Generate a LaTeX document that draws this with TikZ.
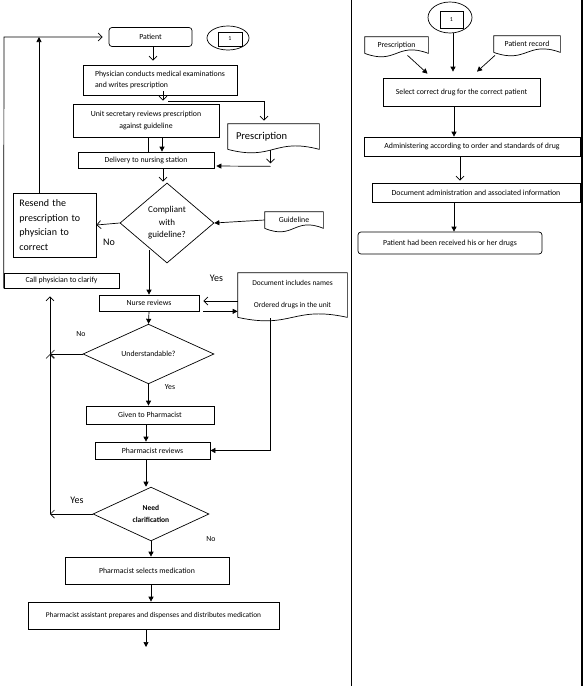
\documentclass[tikz,border=0pt]{standalone}
\usepackage{fontspec}
\setmainfont{Carlito}
\usetikzlibrary{shapes.geometric,arrows.meta,calc}
\newcommand{\docborder}[1]{%
  \draw (#1.south west) -- (#1.north west) -- (#1.north east) -- (#1.south east)
    .. controls ($(#1.south)+(0,-12)$) and ($(#1.south)+(0,12)$) .. (#1.south west);}
\begin{document}
\begin{tikzpicture}[x=1pt,y=-1pt,line width=0.7pt,
    every node/.style={inner sep=0pt,font=\fontsize{7.8}{11}\selectfont},
    big/.style={font=\fontsize{10}{14.5}\selectfont},
    box/.style={draw,rectangle},
    rbox/.style={draw,rectangle,rounded corners=3pt},
    docu/.style={rectangle},
    dia/.style={draw,diamond},
    arr/.style={-{Triangle[length=5pt,width=5pt]}},
    oarr/.style={-{Straight Barb[length=4pt,width=8pt]}}]
  \useasboundingbox (0,0) rectangle (584,688);
  % left column
  \node[rbox,minimum width=83,minimum height=19] (patient) at (150.5,37) {Patient};
  \node[draw,ellipse,minimum width=42,minimum height=24] (mark) at (228,38) {};
  \node[box,minimum width=24,minimum height=14,font=\fontsize{6}{7}\selectfont] (one) at (230,39) {1};
  \node[box,minimum width=154,minimum height=30,align=left] (physician) at (160,80) {Physician conducts medical examinations\\and writes prescription};
  \node[box,minimum width=146,minimum height=33,align=center,font=\fontsize{7.8}{12}\selectfont] (unitsec) at (146,120.5) {Unit secretary reviews prescription\\against guideline};
  \node[docu,minimum width=91,minimum height=25,text width=75,align=left,font=\fontsize{10.5}{12}\selectfont] (presc) at (273.5,136.5) {Prescription};
  \node[box,minimum width=136,minimum height=16] (delivery) at (146,160) {Delivery to nursing station};
  \node[dia,minimum width=94,minimum height=80,align=center,font=\fontsize{9}{12.5}\selectfont] (comply) at (167,223) {Compliant\\with\\guideline?};
  \node[box,minimum width=83,minimum height=64,text width=70,align=left,big] (resend) at (54.5,225) {Resend the\\prescription to\\physician to\\correct};
  \node[docu,minimum width=58,minimum height=16] (guide) at (294,220) {Guideline};
  \node[box,minimum width=115,minimum height=15] (call) at (61.5,280.5) {Call physician to clarify};
  \node[box,minimum width=100,minimum height=16] (nurse) at (149,303) {Nurse reviews};
  \node[docu,minimum width=109,minimum height=44,align=center,font=\fontsize{7.5}{22}\selectfont] (docnames) at (292.5,295) {Document includes names\\Ordered drugs in the unit};
  \node[dia,minimum width=131,minimum height=42] (underst) at (148.5,354) {Understandable?};
  \node[box,minimum width=128,minimum height=18] (given) at (150,415) {Given to Pharmacist};
  \node[box,minimum width=115,minimum height=17] (pharmrev) at (152.5,450.5) {Pharmacist reviews};
  \node[dia,minimum width=116,minimum height=49,align=center,font=\fontsize{7.5}{12}\selectfont\bfseries] (needcl) at (151,514) {Need\\clarification};
  \node[box,minimum width=164,minimum height=27] (select) at (147,570.5) {Pharmacist selects medication};
  \node[box,minimum width=251,minimum height=27,font=\fontsize{7.4}{11}\selectfont] (assist) at (153.5,615.5) {Pharmacist assistant prepares and dispenses and distributes medication};
  \node[big] (no1) at (109,242) {No};
  \node[big] (yes1) at (216.5,278) {Yes};
  \node (no2) at (81,334) {No};
  \node (yes2) at (170,387) {Yes};
  \node[big] (yes3) at (77,500) {Yes};
  \node (no3) at (211,539) {No};
  \coordinate (ret) at (4,37);
  \coordinate (jn) at (50,354);
  \coordinate (fin) at (146,647);
  % right column
  \node[draw,ellipse,minimum width=44,minimum height=31] (mark2) at (450,17.5) {};
  \node[box,minimum width=23,minimum height=17,font=\fontsize{6}{7}\selectfont] (one2) at (451.5,19.5) {1};
  \node[docu,minimum width=63,minimum height=16] (presc2) at (396.5,45) {Prescription};
  \node[docu,minimum width=66,minimum height=16] (record) at (527,44) {Patient record};
  \node[box,minimum width=157,minimum height=28] (drug) at (461.5,92) {Select correct drug for the correct patient};
  \node[box,minimum width=216,minimum height=19] (admin) at (472,146.5) {Administering according to order and standards of drug};
  \node[box,minimum width=208,minimum height=19] (docadmin) at (476,192.5) {Document administration and associated information};
  \node[rbox,minimum width=184,minimum height=22] (received) at (450,243) {Patient had been received his or her drugs};
  \foreach \d in {presc,guide,docnames,presc2,record} {\docborder{\d}}
  \draw (351,0) -- (351,686);
  \draw[line width=1.2pt] (582,0) -- (582,686);
  % connectors left
  \draw[oarr,shorten >=4pt] ([xshift=2.5pt]patient.south) -- ([xshift=2.5pt]patient.south |- physician.north);
  \draw[oarr,shorten >=3pt] ([xshift=3pt,yshift=4pt]physician.south) -- ([xshift=3pt]physician.south |- unitsec.north);
  \draw[oarr,shorten >=3pt] ([xshift=8pt,yshift=-6pt]physician.south) -| ([xshift=-9.5pt]presc.north);
  \draw[arr] ([xshift=16pt]unitsec.south) -- ([xshift=16pt]unitsec.south |- delivery.north);
  \draw ([xshift=2pt]unitsec.south) -- ([xshift=2pt]unitsec.south |- delivery.north);
  \draw[oarr] ([xshift=-3pt,yshift=-1pt]presc.south) -- ([xshift=-3pt,yshift=-14pt]presc.south);
  \draw[arr,shorten >=2pt] ([xshift=-3pt,yshift=-17pt]presc.south) -- ([yshift=-6pt]delivery.east);
  \draw[oarr,shorten >=1pt] ([xshift=17pt]delivery.south) -- ([xshift=17pt]delivery.south |- comply.north);
  \draw[oarr] (comply.west) -- (resend.east);
  \draw[arr] ([xshift=-15.5pt]resend.north) -- ([xshift=-15.5pt]resend.north |- ret);
  \draw[oarr,shorten >=6pt] (call.south west) -- (ret) -- (patient.west);
  \draw[arr] (guide.west) -- (comply.east);
  \draw[arr] (nurse.north |- comply.-120) -- (nurse.north);
  \draw[oarr,shorten >=4pt] ([yshift=-6pt]docnames.west) -- ([yshift=-6pt]docnames.west -| nurse.east);
  \draw[arr] ([xshift=4pt]nurse.south east) -- (nurse.south east -| docnames.west);
  \draw[arr] ([xshift=-22.5pt,yshift=-1pt]docnames.south) |- (pharmrev.east);
  \draw[arr] (nurse.south) -- (underst.north);
  \draw[oarr] (underst.west) -- (jn);
  \draw[oarr] (needcl.west -| jn) -- (jn);
  \draw[oarr,shorten >=8pt] (jn) -- (jn |- call.south);
  \draw[oarr] (needcl.west) -- (needcl.west -| jn);
  \draw[arr] (underst.south) -- (underst.south |- given.north);
  \draw[arr] ([xshift=-4pt]given.south) -- ([xshift=-4pt]given.south |- pharmrev.north);
  \draw[arr] ([xshift=-6.5pt]pharmrev.south) -- ([xshift=-6.5pt]pharmrev.south |- needcl.north);
  \draw[arr] (needcl.south) -- (needcl.south |- select.north);
  \draw[arr] ([xshift=4pt]select.south) -- ([xshift=4pt]select.south |- assist.north);
  \draw[arr] (assist.south -| fin) -- (fin);
  % connectors right
  \draw[arr,shorten >=6pt] ([xshift=3pt]mark2.south) -- ([xshift=3pt]mark2.south |- drug.north);
  \draw[arr] ([xshift=11pt,yshift=-2pt]presc2.south) -- ([xshift=-34pt,yshift=4pt]drug.north);
  \draw[arr] ([xshift=-32pt,yshift=-3pt]record.south) -- ([xshift=15.5pt,yshift=6pt]drug.north);
  \draw[arr] ([xshift=-7.5pt]drug.south) -- ([xshift=-7.5pt]drug.south |- admin.north);
  \draw[oarr,shorten >=2pt] ([xshift=-12pt]admin.south) -- ([xshift=-12pt]admin.south |- docadmin.north);
  \draw[arr] ([xshift=-22pt]docadmin.south) -- ([xshift=-22pt]docadmin.south |- received.north);
\end{tikzpicture}
\end{document}
